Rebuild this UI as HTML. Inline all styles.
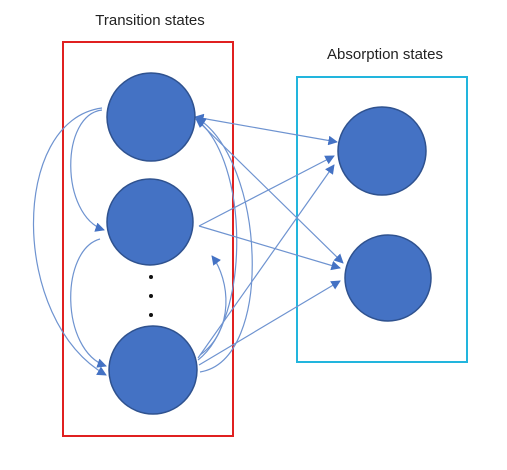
<!DOCTYPE html>
<html><head><meta charset="utf-8"><style>
body{margin:0;background:#fff;width:507px;height:470px;overflow:hidden}
svg{display:block}
text{font-family:"Liberation Sans",sans-serif;font-size:15px;fill:#222}
</style></head><body>
<svg width="507" height="470">
<defs><marker id="ah" viewBox="0 0 10 10" refX="9" refY="5" markerWidth="8" markerHeight="8" orient="auto-start-reverse"><path d="M0,0L10,5L0,10z" fill="#4472C4"/></marker></defs>
<text x="150" y="25" text-anchor="middle">Transition states</text>
<text x="385" y="59" text-anchor="middle">Absorption states</text>
<rect x="63" y="42" width="170" height="394" fill="none" stroke="#E02020" stroke-width="2"/>
<rect x="297" y="77" width="170" height="285" fill="none" stroke="#22B5DD" stroke-width="2"/>
<g fill="none" stroke="#6E93D0" stroke-width="1.2" marker-end="url(#ah)">
<path d="M195,117 L337,142" marker-start="url(#ah)"/>
<path d="M196,119 L343,263"/>
<path d="M199,226 L334,156"/>
<path d="M199,226 L340,268"/>
<path d="M198,358 L334,165"/>
<path d="M199,365 L340,281"/>
<path d="M198,360 C250,320 250,160 196,119"/>
<path d="M200,372 C275,360 265,160 197,118"/>
<path d="M200,355 C235,330 230,280 212,256"/>
<path d="M102,110 C60,115 60,215 104,230"/>
<path d="M102,108 C10,120 10,320 106,375"/>
<path d="M100,239 C60,250 60,350 106,366"/>
</g>
<g fill="#4472C4" stroke="#2F528F" stroke-width="1.5">
<circle cx="151" cy="117" r="44"/>
<circle cx="150" cy="222" r="43"/>
<circle cx="153" cy="370" r="44"/>
<circle cx="382" cy="151" r="44"/>
<circle cx="388" cy="278" r="43"/>
</g>
<g fill="#111">
<circle cx="151" cy="277" r="2"/><circle cx="151" cy="296" r="2"/><circle cx="151" cy="315" r="2"/>
</g>
</svg>
</body></html>
